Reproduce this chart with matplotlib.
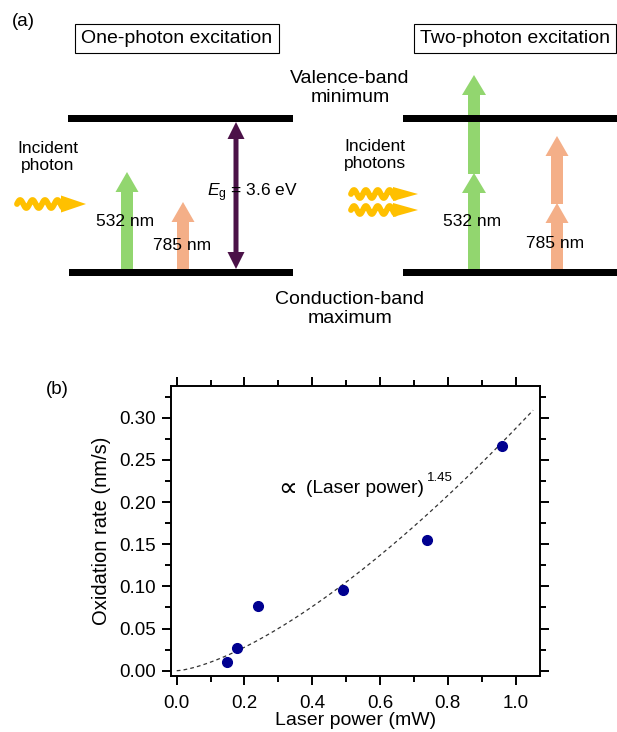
import numpy as np
import matplotlib
matplotlib.use("Agg")
import matplotlib.pyplot as plt
from matplotlib.patches import Polygon, Rectangle
from matplotlib.ticker import MultipleLocator

plt.rcParams['font.family'] = ['Liberation Sans', 'DejaVu Sans']
plt.rcParams['mathtext.fontset'] = 'custom'
plt.rcParams['mathtext.rm'] = 'Liberation Sans'
plt.rcParams['mathtext.it'] = 'Liberation Sans:italic'

# ------------------------------------------------------------------
# Data for panel (b)
# ------------------------------------------------------------------
power_mw = [0.149, 0.179, 0.240, 0.490, 0.740, 0.960]
rate_nm_s = [0.010, 0.027, 0.077, 0.096, 0.155, 0.267]

FIT_EXPONENT = 1.45
FIT_PREFACTOR = 0.287
FIT_X_MAX = 1.052

x_ticks = [0.0, 0.2, 0.4, 0.6, 0.8, 1.0]
y_ticks = [0.00, 0.05, 0.10, 0.15, 0.20, 0.25, 0.30]

GREEN = '#92D66F'
SALMON = '#F4AF88'
PURPLE = '#4B1248'
PHOTON = '#FFC000'
DOT = '#000090'

fig = plt.figure(figsize=(6.17, 7.32), dpi=100)

# ------------------------------------------------------------------
# Panel (a): energy diagram, drawn in pixel coordinates
# ------------------------------------------------------------------
ax0 = fig.add_axes([0, 0, 1, 1])
ax0.set_xlim(0, 617)
ax0.set_ylim(732, 0)
ax0.axis('off')


def block_arrow(ax, xc, y_base, y_tip, color, shaft_w=12, head_w=23,
                head_len=20):
    pts = [(xc - shaft_w / 2, y_base), (xc - shaft_w / 2, y_tip + head_len),
           (xc - head_w / 2, y_tip + head_len), (xc, y_tip),
           (xc + head_w / 2, y_tip + head_len),
           (xc + shaft_w / 2, y_tip + head_len), (xc + shaft_w / 2, y_base)]
    ax.add_patch(Polygon(pts, closed=True, fc=color, ec='none', zorder=2))


def double_arrow(ax, xc, y_top, y_bot, color, shaft_w=5, head_w=17,
                 head_len=17):
    pts = [(xc, y_top), (xc + head_w / 2, y_top + head_len),
           (xc + shaft_w / 2, y_top + head_len),
           (xc + shaft_w / 2, y_bot - head_len),
           (xc + head_w / 2, y_bot - head_len), (xc, y_bot),
           (xc - head_w / 2, y_bot - head_len),
           (xc - shaft_w / 2, y_bot - head_len),
           (xc - shaft_w / 2, y_top + head_len),
           (xc - head_w / 2, y_top + head_len)]
    ax.add_patch(Polygon(pts, closed=True, fc=color, ec='none', zorder=2))


def photon(ax, x0, yc, wave_len=46, amp=4.0, cycles=3.7, tri_len=23,
           tri_h=16, lw=4.2):
    t = np.linspace(0, 1, 200)
    xs = x0 + t * wave_len
    ys = yc - amp * np.sin(2 * np.pi * cycles * t)
    ax.plot(xs, ys, color=PHOTON, lw=lw, solid_capstyle='round', zorder=2)
    xb = x0 + wave_len
    ax.add_patch(Polygon([(xb - 2, yc - tri_h / 2), (xb + tri_len, yc),
                          (xb - 2, yc + tri_h / 2)], closed=True,
                         fc=PHOTON, ec='none', zorder=2))


def band(ax, x0, x1, y0, y1):
    ax.add_patch(Rectangle((x0, y0), x1 - x0, y1 - y0, fc='black',
                           ec='none', zorder=3))


# band edges
band(ax0, 68, 293, 115, 122)
band(ax0, 69, 293, 269, 276)
band(ax0, 403, 617, 115, 122)
band(ax0, 403, 617, 269, 276)

# title boxes
box_kw = dict(boxstyle='square,pad=0.32', fc='white', ec='black', lw=0.8)
ax0.text(177, 38.5, 'One-photon excitation', ha='center', va='center',
         fontsize=14, bbox=box_kw)
ax0.text(515, 38.5, 'Two-photon excitation', ha='center', va='center',
         fontsize=14, bbox=box_kw)
ax0.text(12, 22, '(a)', ha='left', va='center', fontsize=13.5)

ax0.text(350, 88, 'Valence-band\nminimum', ha='center', va='center',
         fontsize=14, linespacing=1.15)
ax0.text(350, 309, 'Conduction-band\nmaximum', ha='center', va='center',
         fontsize=14, linespacing=1.15)

# one-photon side
ax0.text(48, 157, 'Incident\nphoton', ha='center', va='center',
         fontsize=12.5, linespacing=1.15)
photon(ax0, 17, 204, tri_h=17)
block_arrow(ax0, 127, 270, 172, GREEN)
block_arrow(ax0, 183, 270, 202, SALMON)
ax0.text(125, 222, '532 nm', ha='center', va='center', fontsize=12.5,
         zorder=4)
ax0.text(182, 245, '785 nm', ha='center', va='center', fontsize=12.5,
         zorder=4)
double_arrow(ax0, 236, 122, 269, PURPLE)
ax0.text(207, 193, r'$E_\mathrm{g}$ = 3.6 eV', ha='left', va='center',
         fontsize=12.5, zorder=4)

# two-photon side
ax0.text(375, 155, 'Incident\nphotons', ha='center', va='center',
         fontsize=12.5, linespacing=1.15)
photon(ax0, 351, 194, wave_len=44, tri_h=14)
photon(ax0, 351, 210, wave_len=44, tri_h=14)
block_arrow(ax0, 474, 270, 173, GREEN, head_w=24)
block_arrow(ax0, 474, 174, 75, GREEN, head_w=24)
block_arrow(ax0, 557, 270, 203, SALMON)
block_arrow(ax0, 557, 204, 136, SALMON)
ax0.text(472, 222, '532 nm', ha='center', va='center', fontsize=12.5,
         zorder=4)
ax0.text(555, 244, '785 nm', ha='center', va='center', fontsize=12.5,
         zorder=4)

# ------------------------------------------------------------------
# Panel (b): oxidation rate vs laser power
# ------------------------------------------------------------------
ax = fig.add_axes([0.2767, 0.0769, 0.5985, 0.3958])
xfit = np.linspace(0, FIT_X_MAX, 200)
ax.plot(xfit, FIT_PREFACTOR * xfit ** FIT_EXPONENT, color='#333333',
        lw=0.9, dashes=(3, 2.5))
ax.plot(power_mw, rate_nm_s, 'o', color=DOT, ms=7, mec=DOT, zorder=5)

ax.set_xlim(-0.0177, 1.0723)
ax.set_ylim(-0.0059, 0.3376)
ax.set_xticks(x_ticks)
ax.set_xticklabels([f'{v:.1f}' for v in x_ticks])
ax.set_yticks(y_ticks)
ax.set_yticklabels([f'{v:.2f}' for v in y_ticks])
ax.xaxis.set_minor_locator(MultipleLocator(0.1))
ax.yaxis.set_minor_locator(MultipleLocator(0.025))
ax.tick_params(which='both', direction='out', top=True, right=True,
               width=1.4, labelsize=13.5)
ax.tick_params(which='major', length=6.5)
ax.tick_params(which='minor', length=4.2)
ax.tick_params(axis='x', which='major', pad=7.5)
ax.tick_params(axis='y', which='major', pad=4)
for sp in ax.spines.values():
    sp.set_linewidth(1.4)

ax.set_xlabel('Laser power (mW)', fontsize=14, labelpad=0)
ax.set_ylabel('Oxidation rate (nm/s)', fontsize=14.5, labelpad=6)

ax.text(0.300, 0.2155, '\u221d', ha='left', va='center', fontsize=19)
ax.text(0.381, 0.2155, '(Laser power)', ha='left', va='center',
        fontsize=13.8)
ax.text(0.738, 0.228, '1.45', ha='left', va='center', fontsize=9.5)

fig.text(57 / 617, 1 - 389 / 732, '(b)', ha='center', va='center',
         fontsize=13.5)

fig.savefig('out.png', dpi=100)
